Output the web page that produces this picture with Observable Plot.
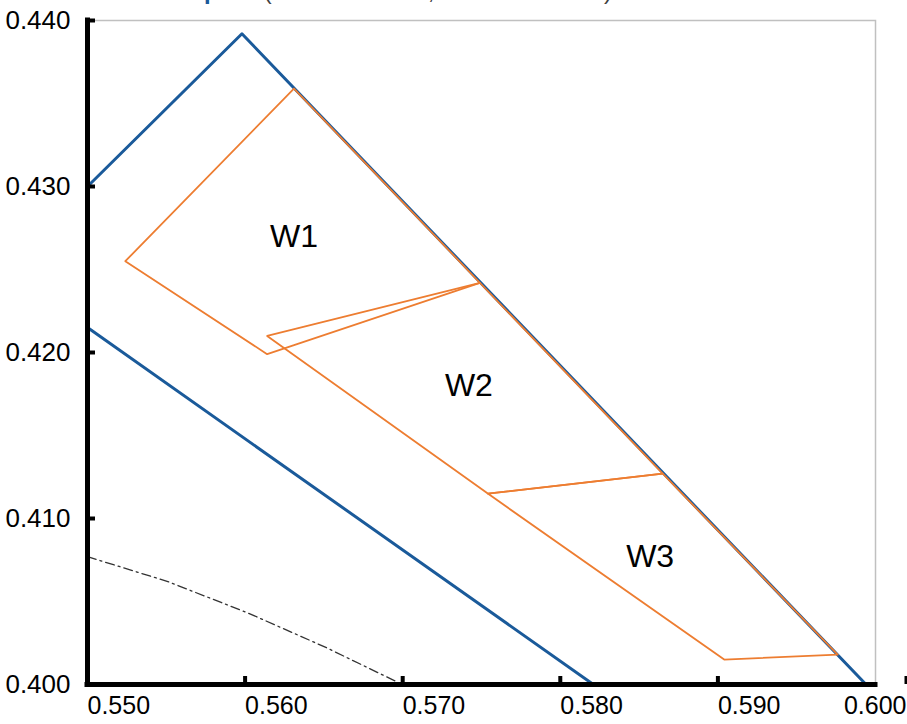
<!DOCTYPE html>
<html>
<head>
<meta charset="utf-8">
<script src="https://cdn.jsdelivr.net/npm/d3@7"></script>
<script src="https://cdn.jsdelivr.net/npm/@observablehq/plot@0.6"></script>
<style>
  body { margin: 0; background: #fff; }
  #wrap { position: relative; width: 907px; height: 724px; overflow: hidden; background: #fff; }
  #title { position: absolute; left: 72px; top: -21px; font: 24px/24px "Liberation Sans", Arial, sans-serif; white-space: nowrap; }
  #title .b { color: #1a5a9a; font-weight: bold; }
  #title .g { color: #404040; margin-left: 45px; }
  #chart { position: absolute; left: 0; top: 0; }
</style>
</head>
<body>
<div id="wrap">
  <div id="chart"></div>
  <div id="title"><span class="b">Amber Lamp</span><span class="g">(ECE R65 Area, SAE J845 Area)</span></div>
</div>
<script>
// Axis ticks
const xTicks = [0.550, 0.560, 0.570, 0.580, 0.590, 0.600];
const yTicks = [0.400, 0.410, 0.420, 0.430, 0.440];

// Blue boundary lines (x, y)
const blueUpper = [[0.5500, 0.4300], [0.5598, 0.4392], [0.5994, 0.4000]];
const blueLower = [[0.5500, 0.4215], [0.5821, 0.4000]];

// Dash-dot curve
const dashCurve = [[0.5500, 0.4077], [0.5551, 0.4062], [0.5602, 0.4043], [0.5652, 0.4022], [0.5702, 0.3999]];

// Orange zones
const w1 = [[0.5631, 0.4359], [0.5524, 0.4255], [0.5614, 0.4199], [0.5749, 0.4242]];
const w2 = [[0.5614, 0.4210], [0.5749, 0.4242], [0.5865, 0.4127], [0.5754, 0.4115]];
const w3 = [[0.5754, 0.4115], [0.5865, 0.4127], [0.5976, 0.4018], [0.5904, 0.4015]];

// Zone labels
const zoneNames = ["W1", "W2", "W3"];
const zoneLabelX = [0.5631, 0.5742, 0.5857];
const zoneLabelY = [0.4270, 0.4180, 0.4077];

const toPts = arr => arr.map(([x, y]) => ({x, y}));
const labels = zoneNames.map((name, i) => ({name, x: zoneLabelX[i], y: zoneLabelY[i]}));
const fmt = d3.format(".3f");

const blue = "#1a5a9a";
const orange = "#ed7d31";

const chart = Plot.plot({
  width: 907,
  height: 724,
  marginLeft: 87,
  marginRight: 32,
  marginTop: 20,
  marginBottom: 40,
  x: {domain: [0.55, 0.60], label: null},
  y: {domain: [0.40, 0.44], label: null},
  style: {fontFamily: "'Liberation Sans', Arial, sans-serif", fontSize: "24px", color: "#000", background: "transparent", overflow: "visible"},
  marks: [
    Plot.frame({stroke: "#c0c0c0", strokeWidth: 1.5}),
    Plot.line(toPts(dashCurve), {x: "x", y: "y", stroke: "#333", strokeWidth: 1.3, strokeDasharray: "9,4,2,4"}),
    Plot.line(toPts(blueUpper), {x: "x", y: "y", stroke: blue, strokeWidth: 3}),
    Plot.line(toPts(blueLower), {x: "x", y: "y", stroke: blue, strokeWidth: 3}),
    Plot.line(toPts(w1), {x: "x", y: "y", stroke: orange, strokeWidth: 1.8, curve: "linear-closed"}),
    Plot.line(toPts(w2), {x: "x", y: "y", stroke: orange, strokeWidth: 1.8, curve: "linear-closed"}),
    Plot.line(toPts(w3), {x: "x", y: "y", stroke: orange, strokeWidth: 1.8, curve: "linear-closed"}),
    Plot.text(labels, {x: "x", y: "y", text: "name", fontSize: 32, fill: "#000"}),
    Plot.axisY(yTicks, {anchor: "left", label: null, tickSize: 8, insetLeft: 8, tickPadding: 17, strokeWidth: 4, tickFormat: fmt, fontSize: 26, fill: "#000", stroke: "#000"}),
    Plot.axisX(xTicks.slice(0, 5), {anchor: "bottom", label: null, tickSize: 8, insetBottom: 8, tickPadding: 12, strokeWidth: 4, tickFormat: fmt, fontSize: 25, textAnchor: "start", fill: "#000", stroke: "#000"}),
    Plot.axisX(xTicks.slice(5), {anchor: "bottom", label: null, tickSize: 8, insetBottom: 8, tickPadding: 12, strokeWidth: 4, tickFormat: fmt, fontSize: 25, textAnchor: "end", dx: 31, fill: "#000", stroke: "#000"}),
    Plot.ruleX([0.55], {stroke: "#000", strokeWidth: 5, strokeLinecap: "square"}),
    Plot.ruleY([0.40], {stroke: "#000", strokeWidth: 5, strokeLinecap: "square"})
  ]
});
document.getElementById("chart").appendChild(chart);
</script>
</body>
</html>
